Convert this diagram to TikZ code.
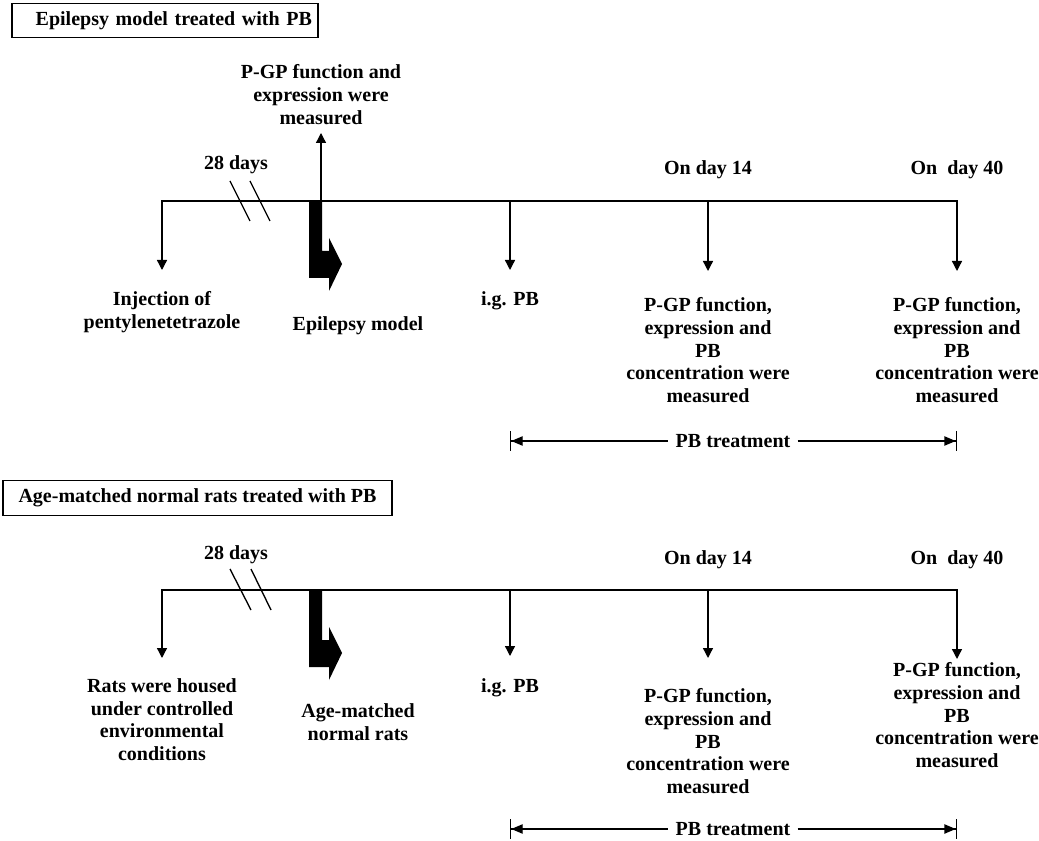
\documentclass[tikz,border=0pt]{standalone}
\usepackage{fontspec}
\setmainfont{Liberation Serif}
\usetikzlibrary{arrows.meta}

\begin{document}
\begin{tikzpicture}
  [x=0.75pt,y=-0.75pt,line width=1pt,
   every node/.style={font=\bfseries\fontsize{15}{17}\selectfont,inner sep=0pt,align=center},
   tip/.style={-{Triangle[length=7.5pt,width=7.5pt]}},
   tips/.style={{Triangle[length=7.5pt,width=7.5pt]}-{Triangle[length=7.5pt,width=7.5pt]}},
   spanl/.style={{Bar[width=15pt]Triangle[length=8.5pt,width=7pt]}-},
   spanr/.style={-{Triangle[length=8.5pt,width=7pt]Bar[width=15pt]}},
   titlebox/.style={draw,line width=0.8pt,minimum height=26pt}]
  \path[use as bounding box,fill=white] (0,0) rectangle (1039,841);

  \node[titlebox,text width=220.5pt,inner xsep=4.5pt,align=right] (t1) at (165,20.5) {Epilepsy model treated with PB};
  \node[titlebox,minimum width=291.75pt] (t2) at (197.5,498) {Age-matched normal rats treated with PB};

  \coordinate (a0) at (162,201);
  \coordinate (a1) at (510,201);
  \coordinate (a2) at (708,201);
  \coordinate (a3) at (957,201);
  \coordinate (e0) at (162,270);
  \coordinate (e1) at (510,270);
  \coordinate (e2) at (708,271);
  \coordinate (e3) at (957,271);
  \coordinate (u0) at (321,201);
  \coordinate (u1) at (321,133);
  \coordinate (b0) at (162,590);
  \coordinate (b1) at (510,590);
  \coordinate (b2) at (708,590);
  \coordinate (b3) at (957,590);
  \coordinate (f0) at (162,658);
  \coordinate (f1) at (510,656);
  \coordinate (f2) at (708,658);
  \coordinate (f3) at (957,659);
  \coordinate (tl1) at (510,441);
  \coordinate (tr1) at (957,441);
  \coordinate (tl2) at (510,829);
  \coordinate (tr2) at (957,829);

  \node[anchor=base] (days1) at (236,170) {28 days};
  \node[anchor=north] (pgp) at (321,64) {P-GP function and\\expression were\\measured};
  \node[anchor=base] (on14a) at (708,175) {On day 14};
  \node[anchor=base] (on40a) at (957,175) {On\ \ day 40};
  \node[anchor=north] (inj) at (162,291) {Injection of\\pentylenetetrazole};
  \node[anchor=north] (epi) at (358,316) {Epilepsy model};
  \node[anchor=north] (ig1) at (510,291) {i.g. PB};
  \node[anchor=north] (m14a) at (708,297) {P-GP function,\\expression and\\PB\\concentration were\\measured};
  \node[anchor=north] (m40a) at (957,297) {P-GP function,\\expression and\\PB\\concentration were\\measured};
  \node[inner xsep=5pt] (pb1) at (733,441) {PB treatment};

  \node[anchor=base] (days2) at (236,559) {28 days};
  \node[anchor=base] (on14b) at (708,564) {On day 14};
  \node[anchor=base] (on40b) at (957,564) {On\ \ day 40};
  \node[anchor=north] (rats) at (162,678) {Rats were housed\\under controlled\\environmental\\conditions};
  \node[anchor=north] (agem) at (358,703) {Age-matched\\normal rats};
  \node[anchor=north] (ig2) at (510,678) {i.g. PB};
  \node[anchor=north] (m14b) at (708,688) {P-GP function,\\expression and\\PB\\concentration were\\measured};
  \node[anchor=north] (m40b) at (957,662) {P-GP function,\\expression and\\PB\\concentration were\\measured};
  \node[inner xsep=5pt] (pb2) at (733,829) {PB treatment};

  \draw[tips] (e0) -- (a0) -- (a3) -- (e3);
  \draw[tips] (f0) -- (b0) -- (b3) -- (f3);
  \foreach \i in {1,2}{
    \draw[tip] (a\i) -- (e\i);
    \draw[tip] (b\i) -- (f\i);
  }
  \draw[tip] (u0) -- (u1);

  \draw (230,181) -- (250,221) (250,181) -- (270,221);
  \draw (230,569) -- (251,610) (251,569) -- (271,610);

  \foreach \s in {0,389}
    \fill[shift={(0,\s)}] (309,201) -- (322,201) -- (322,251) -- (329,251) -- (329,238)
      -- (342,264) -- (329,291) -- (329,278) -- (309,278) -- cycle;

  \draw[spanl] (tl1) -- (pb1.west);
  \draw[spanr] (pb1.east) -- (tr1);
  \draw[spanl] (tl2) -- (pb2.west);
  \draw[spanr] (pb2.east) -- (tr2);

\end{tikzpicture}
\end{document}
